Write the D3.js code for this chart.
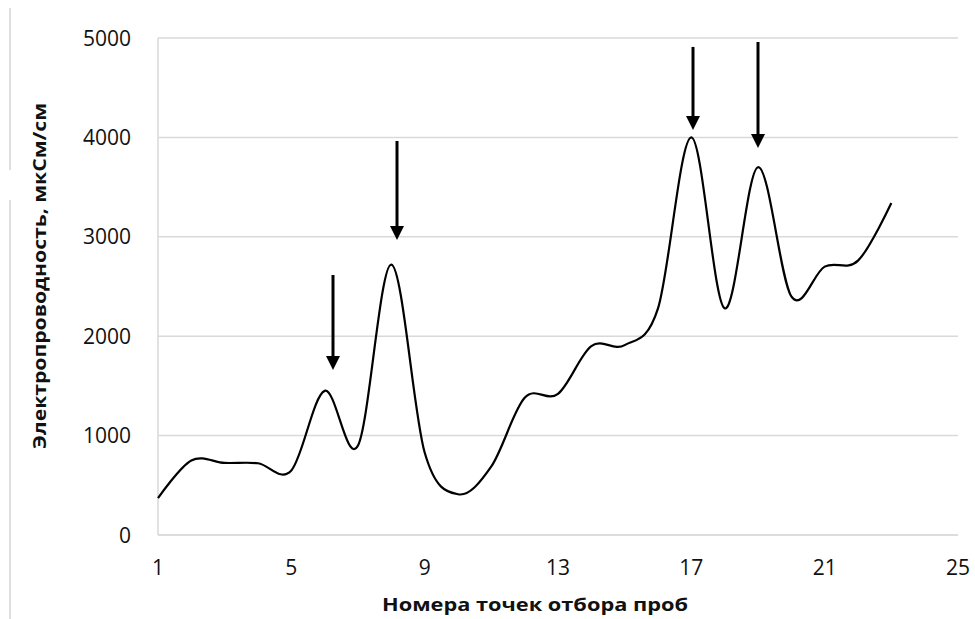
<!DOCTYPE html>
<html>
<head>
<meta charset="utf-8">
<script src="https://cdn.jsdelivr.net/npm/d3@7"></script>
<style>
  body { margin: 0; background: #fff; }
  svg { display: block; font-family: "Open Sans", "Noto Sans", sans-serif; }
</style>
</head>
<body>
<svg id="chart" width="975" height="619"></svg>
<script>
// sample points and conductivity
var points = [1, 2, 3, 4, 5, 6, 7, 8, 9, 10, 11, 12, 13, 14, 15, 16, 17, 18, 19, 20, 21, 22, 23];
var conductivity = [370, 750, 725, 722, 650, 1450, 900, 2720, 830, 410, 690, 1380, 1420, 1900, 1910, 2280,
                    4000, 2280, 3700, 2400, 2700, 2760, 3340];
var xTicks = [1, 5, 9, 13, 17, 21, 25];
var yTicks = [0, 1000, 2000, 3000, 4000, 5000];

// arrows: x position, top and tip value
var arrowX = [6.25, 8.17, 17.05, 19.0];
var arrowTop = [2616, 3964, 4910, 4960];
var arrowTip = [1660, 2968, 4075, 3893];

var plotLeft = 158, plotRight = 958, plotTop = 38, plotBottom = 535;

var svg = d3.select("#chart");

var x = d3.scaleLinear().domain([1, 25]).range([plotLeft, plotRight]);
var y = d3.scaleLinear().domain([0, 5000]).range([plotBottom, plotTop]);

// stray page border on the left
svg.append("line").attr("x1", 10).attr("x2", 10).attr("y1", 8).attr("y2", 170)
    .attr("stroke", "#bfbfbf").attr("stroke-width", 1);
svg.append("line").attr("x1", 10).attr("x2", 10).attr("y1", 200).attr("y2", 619)
    .attr("stroke", "#bfbfbf").attr("stroke-width", 1);

// grid
svg.append("g").selectAll("line")
    .data(yTicks.slice(1))
  .enter().append("line")
    .attr("x1", plotLeft).attr("x2", plotRight)
    .attr("y1", function(d) { return y(d); }).attr("y2", function(d) { return y(d); })
    .attr("stroke", "#d9d9d9").attr("stroke-width", 1.5);

// axes lines
svg.append("line").attr("x1", plotLeft).attr("x2", plotLeft).attr("y1", plotTop).attr("y2", plotBottom)
    .attr("stroke", "#d9d9d9").attr("stroke-width", 1.5);
svg.append("line").attr("x1", plotLeft).attr("x2", plotRight).attr("y1", plotBottom).attr("y2", plotBottom)
    .attr("stroke", "#d0d0d0").attr("stroke-width", 1.5);

// tick labels
svg.append("g").selectAll("text")
    .data(yTicks)
  .enter().append("text")
    .attr("x", 131)
    .attr("y", function(d) { return y(d); })
    .attr("dy", ".36em")
    .attr("text-anchor", "end")
    .attr("font-size", 21)
    .attr("fill", "#111")
    .text(function(d) { return d; });

svg.append("g").selectAll("text")
    .data(xTicks)
  .enter().append("text")
    .attr("x", function(d) { return x(d); })
    .attr("y", 567)
    .attr("dy", ".36em")
    .attr("text-anchor", "middle")
    .attr("font-size", 21)
    .attr("fill", "#111")
    .text(function(d) { return d; });

// axis titles
svg.append("text")
    .attr("x", 535).attr("y", 605)
    .attr("dy", ".35em")
    .attr("text-anchor", "middle")
    .attr("font-size", 18).attr("font-weight", "bold")
    .attr("fill", "#111")
    .attr("textLength", 306).attr("lengthAdjust", "spacingAndGlyphs")
    .text("Номера точек отбора проб");

svg.append("text")
    .attr("transform", "translate(40," + 276 + ") rotate(-90)")
    .attr("dy", ".35em")
    .attr("text-anchor", "middle")
    .attr("font-size", 18).attr("font-weight", "bold")
    .attr("fill", "#111")
    .attr("textLength", 346).attr("lengthAdjust", "spacingAndGlyphs")
    .text("Электропроводность, мкСм/см");

// the smoothed series
var line = d3.line()
    .x(function(d, i) { return x(points[i]); })
    .y(function(d) { return y(d); })
    .curve(d3.curveCardinal.tension(0));

svg.append("path")
    .datum(conductivity)
    .attr("d", line)
    .attr("fill", "none")
    .attr("stroke", "#000")
    .attr("stroke-width", 2.2);

// arrows
var arrows = svg.append("g").selectAll("g")
    .data(arrowX)
  .enter().append("g");

arrows.append("line")
    .attr("x1", function(d) { return x(d); })
    .attr("x2", function(d) { return x(d); })
    .attr("y1", function(d, i) { return y(arrowTop[i]); })
    .attr("y2", function(d, i) { return y(arrowTip[i]) - 10; })
    .attr("stroke", "#000").attr("stroke-width", 3);

arrows.append("path")
    .attr("d", function(d, i) {
      var cx = x(d), ty = y(arrowTip[i]);
      return "M" + (cx - 7) + "," + (ty - 14) + "L" + (cx + 7) + "," + (ty - 14) + "L" + cx + "," + ty + "Z";
    })
    .attr("fill", "#000");
</script>
</body>
</html>
